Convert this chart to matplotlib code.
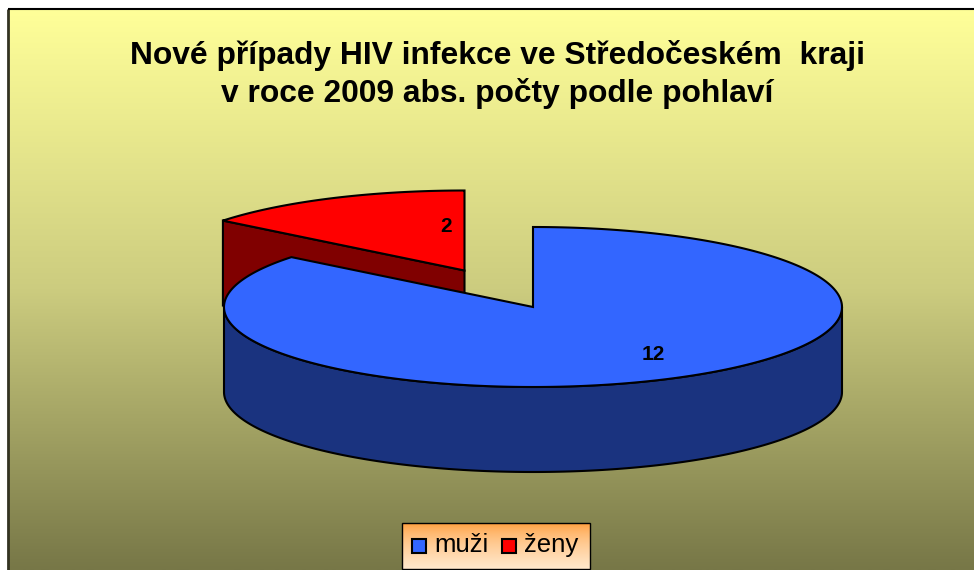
import numpy as np
import matplotlib
matplotlib.use("Agg")
import matplotlib.pyplot as plt
from matplotlib.colors import LinearSegmentedColormap
from matplotlib.patches import Polygon, Rectangle

labels = ['muži', 'ženy']
values = [12, 2]
title = 'Nové případy HIV infekce ve Středočeském  kraji\nv roce 2009 abs. počty podle pohlaví'

plt.rcParams['font.family'] = ['Liberation Sans', 'DejaVu Sans']

fig = plt.figure(figsize=(9.74, 5.7), dpi=100, facecolor='white')
ax = fig.add_axes([0, 0, 1, 1])
ax.set_xlim(0, 974)
ax.set_ylim(570, 0)
ax.axis('off')

# pozadi
bg = LinearSegmentedColormap.from_list('bg', ['#ffff99', '#cccc7f', '#777747'])
ax.imshow(np.linspace(0, 1, 256).reshape(-1, 1), cmap=bg, extent=(8, 974, 570, 9),
          aspect='auto', zorder=0)
ax.plot([8, 8], [570, 9], color='#333322', lw=2, zorder=1, solid_capstyle='butt')
ax.plot([8, 974], [9, 9], color='black', lw=1.5, zorder=1, solid_capstyle='butt')
ax.set_xlim(0, 974)
ax.set_ylim(570, 0)

# geometrie kolace
cx, cy = 533, 307
rx, ry = 309, 80
depth = 85
dx, dy = -68.5, -36.5

split = 2 * np.pi * values[0] / sum(values)   # uhel od vrcholu po smeru hodin


def rim(a0, a1, x0, y0, n=200):
    a = np.linspace(a0, a1, n)
    return np.column_stack([x0 + rx * np.sin(a), y0 - ry * np.cos(a)])


# cervena vysec (vysunuta)
rx0, ry0 = cx + dx, cy + dy
red_rim = rim(split, 2 * np.pi, rx0, ry0)
apex = np.array([[rx0, ry0]])
left = red_rim[0]
side = np.array([left, apex[0], apex[0] + [0, depth], left + [0, depth]])
ax.add_patch(Polygon(side, fc='#800000', ec='black', lw=1.5, zorder=2, joinstyle='miter'))
ax.add_patch(Polygon(np.vstack([apex, red_rim]), fc='#ff0000', ec='black', lw=1.5, zorder=3,
                     joinstyle='miter'))

# modra vysec
a = np.linspace(np.pi / 2, 3 * np.pi / 2, 200)
lower = np.column_stack([cx + rx * np.sin(a), cy - ry * np.cos(a)])
wall = np.vstack([lower, (lower + [0, depth])[::-1]])
ax.add_patch(Polygon(wall, fc='#1a337f', ec='black', lw=1.5, zorder=4))
blue_rim = rim(0, split, cx, cy, 400)
ax.add_patch(Polygon(np.vstack([[[cx, cy]], blue_rim]), fc='#3366ff', ec='black', lw=1.5, zorder=5,
                     joinstyle='miter'))

# popisky hodnot
ax.text(653, 355, str(values[0]), fontsize=15, fontweight='bold', ha='center', va='center', zorder=6)
ax.text(446, 227, str(values[1]), fontsize=15, fontweight='bold', ha='center', va='center', zorder=6)

ax.text(497, 74.5, title, fontsize=22.9, fontweight='bold', ha='center', va='center',
        linespacing=1.32, zorder=6)

# legenda
leg = LinearSegmentedColormap.from_list('leg', ['#ff9933', '#ffe8cc'])
ax.imshow(np.linspace(0, 1, 64).reshape(-1, 1) ** 0.6, cmap=leg, extent=(402, 590, 569, 523),
          aspect='auto', zorder=6)
ax.add_patch(Rectangle((402, 523), 188, 46, fc='none', ec='black', lw=1, zorder=7))
ax.set_xlim(0, 974)
ax.set_ylim(570, 0)
for lab, col, x, tx in zip(labels, ['#3366ff', '#ff0000'], [412, 502], [434, 524]):
    ax.add_patch(Rectangle((x, 539), 14, 14, fc=col, ec='black', lw=1.5, zorder=8))
    ax.text(tx, 545, lab, fontsize=18.5, ha='left', va='center', zorder=8)

fig.savefig('out.png', dpi=100)
